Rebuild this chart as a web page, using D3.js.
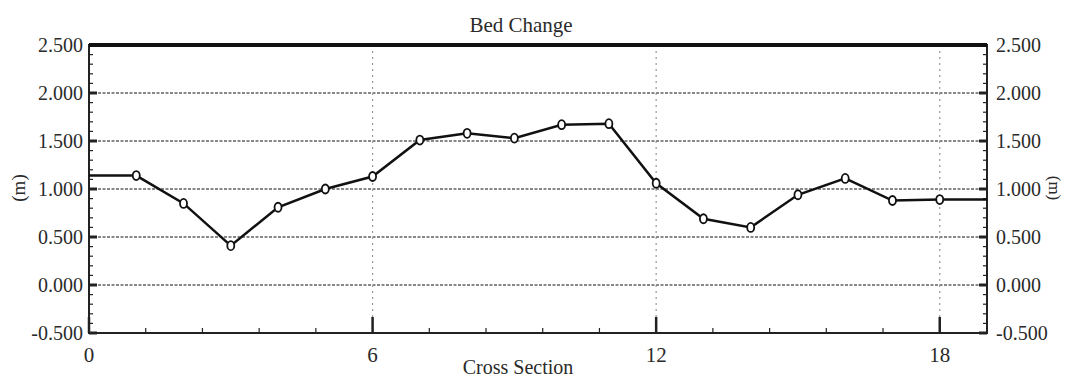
<!DOCTYPE html>
<html><head><meta charset="utf-8">
<script src="https://cdn.jsdelivr.net/npm/d3@7"></script>
<style>body{margin:0;background:#fff}svg{display:block}text{font-family:"Liberation Serif","DejaVu Serif",serif;fill:#2a2a2a}</style>
</head><body><svg id="c" width="1069" height="379"></svg>
<script>
const sections = [0,1,2,3,4,5,6,7,8,9,10,11,12,13,14,15,16,17,18,19];
const bedChange = [1.14,1.14,0.85,0.41,0.81,1.00,1.13,1.51,1.58,1.53,1.67,1.68,1.06,0.69,0.60,0.94,1.11,0.88,0.89,0.89];
const yTicks = [-0.5,0,0.5,1.0,1.5,2.0,2.5];
const xTicks = [0,6,12,18];
const title = "Bed Change", xTitle = "Cross Section", yTitle = "(m)";

const svg = d3.select("#c");
const m = {l:89, r:987, t:45, b:333};
const x = d3.scaleLinear().domain([0,19]).range([m.l,m.r]);
const y = d3.scaleLinear().domain([-0.5,2.5]).range([m.b,m.t]);

// grid
svg.append("g").selectAll("line").data(yTicks.filter(v=>v>-0.5&&v<2.5)).join("line")
  .attr("x1",m.l).attr("x2",m.r).attr("y1",d=>y(d)).attr("y2",d=>y(d))
  .attr("stroke","#888").attr("stroke-width",2).attr("stroke-dasharray","3,1.5");
svg.append("g").selectAll("line").data(xTicks.filter(v=>v>0)).join("line")
  .attr("y1",m.t).attr("y2",m.b).attr("x1",d=>x(d)).attr("x2",d=>x(d))
  .attr("stroke","#999").attr("stroke-width",1.2).attr("stroke-dasharray","2,4");

// minor ticks
const minorY = d3.range(-0.5,2.5001,0.1);
const minorX = d3.range(0,19.001,1.2);
const tk = svg.append("g").attr("stroke","#222");
tk.selectAll(".my").data(minorY).join("line").attr("stroke-width",1.2)
  .attr("x1",m.l).attr("x2",m.l+4).attr("y1",d=>y(d)).attr("y2",d=>y(d));
tk.selectAll(".myr").data(minorY).join("line").attr("stroke-width",1.2)
  .attr("x1",m.r).attr("x2",m.r-4).attr("y1",d=>y(d)).attr("y2",d=>y(d));
tk.selectAll(".mx").data(minorX).join("line").attr("stroke-width",1.2)
  .attr("x1",d=>x(d)).attr("x2",d=>x(d)).attr("y1",m.b).attr("y2",m.b-5);
// major ticks
tk.selectAll(".My").data(yTicks).join("line").attr("stroke-width",3)
  .attr("x1",m.l).attr("x2",m.l+8).attr("y1",d=>y(d)).attr("y2",d=>y(d));
tk.selectAll(".Myr").data(yTicks).join("line").attr("stroke-width",3)
  .attr("x1",m.r).attr("x2",m.r-8).attr("y1",d=>y(d)).attr("y2",d=>y(d));
tk.selectAll(".Mx").data(xTicks).join("line").attr("stroke-width",2.5)
  .attr("x1",d=>x(d)).attr("x2",d=>x(d)).attr("y1",m.b).attr("y2",m.b-16);

// frame
svg.append("rect").attr("x",m.l).attr("y",m.t).attr("width",m.r-m.l).attr("height",m.b-m.t)
  .attr("fill","none").attr("stroke","#222").attr("stroke-width",2);
svg.append("line").attr("x1",m.l).attr("x2",m.r).attr("y1",m.t).attr("y2",m.t)
  .attr("stroke","#111").attr("stroke-width",4);

// tick labels
const fmt = v => d3.format(".3f")(v).replace("\u2212","-");
svg.append("g").selectAll("text").data(yTicks).join("text")
  .attr("x",m.l-6).attr("y",d=>y(d)).attr("dy","0.35em").attr("text-anchor","end")
  .attr("font-size",20).text(d=>fmt(d));
svg.append("g").selectAll("text").data(yTicks).join("text")
  .attr("x",m.r+9).attr("y",d=>y(d)).attr("dy","0.35em").attr("text-anchor","start")
  .attr("font-size",20).text(d=>fmt(d));
svg.append("g").selectAll("text").data(xTicks).join("text")
  .attr("x",d=>x(d)).attr("y",362).attr("text-anchor","middle")
  .attr("font-size",21).text(d=>d);

// titles
svg.append("text").attr("x",521).attr("y",32).attr("text-anchor","middle").attr("font-size",21).text(title);
svg.append("text").attr("x",518).attr("y",374).attr("text-anchor","middle").attr("font-size",20).text(xTitle);
svg.append("text").attr("transform","translate(25,188) rotate(-90)").attr("text-anchor","middle").attr("font-size",19).text(yTitle);
svg.append("text").attr("transform","translate(1049,188) rotate(90)").attr("text-anchor","middle").attr("font-size",17).text(yTitle);

// line
const pts = sections.map((s,i)=>({s, v:bedChange[i]}));
svg.append("path").datum(pts).attr("fill","none").attr("stroke","#111").attr("stroke-width",2.5)
  .attr("d",d3.line().x(d=>x(d.s)).y(d=>y(d.v)));
svg.append("g").selectAll("ellipse").data(pts.filter(d=>d.s>0&&d.s<19)).join("ellipse")
  .attr("cx",d=>x(d.s)).attr("cy",d=>y(d.v)).attr("rx",3.5).attr("ry",4.5)
  .attr("fill","#fff").attr("stroke","#111").attr("stroke-width",1.8);
</script></body></html>
